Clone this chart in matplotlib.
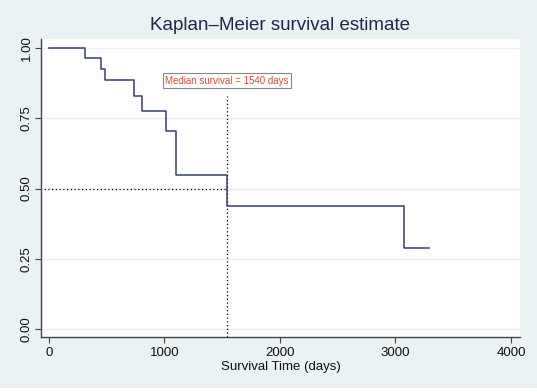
import matplotlib
matplotlib.use("Agg")
import matplotlib.pyplot as plt
from matplotlib.patches import Rectangle

plt.rcParams['font.family'] = ['Liberation Sans', 'DejaVu Sans']

# Data
times = [0, 309, 450, 482, 733, 802, 1016, 1097, 1540, 3076, 3293]
surv = [1.0, 0.9655, 0.925, 0.885, 0.830, 0.775, 0.705, 0.550, 0.439, 0.289, 0.289]
median_time = 1540
median_label = "Median survival = 1540 days"
xticks = [0, 1000, 2000, 3000, 4000]
yticks = [0.0, 0.25, 0.5, 0.75, 1.0]
title = "Kaplan\u2013Meier survival estimate"
xlabel = "Survival Time (days)"

W, H = 537, 392
fig = plt.figure(figsize=(W / 100, H / 100), dpi=100, facecolor='white')
bg = '#EAF2F4'
fig.patches.append(Rectangle((0, 4 / H), 1, 1 - 4 / H, transform=fig.transFigure,
                             facecolor=bg, edgecolor='none', zorder=-10))

ax = fig.add_axes([41 / W, (H - 337) / H, (520 - 41) / W, (337 - 39) / H])
ax.set_facecolor('white')
ax.set_xlim(-69, 4078)
ax.set_ylim(-0.028, 1.032)

for y in yticks:
    ax.axhline(y, color='#EAF1F4', lw=1.0, zorder=0)

ax.step(times, surv, where='post', color='#34406C', lw=1.1, zorder=3)

ax.plot([-40, median_time], [0.5, 0.5], color='black', lw=0.9, ls=(0, (1, 2)), zorder=2)
ax.plot([median_time, median_time], [-0.028, 0.83], color='black', lw=0.9, ls=(0, (1, 2)), zorder=2)
ax.text(median_time, 0.884, median_label, ha='center', va='center', fontsize=7,
        color='#D4503A',
        bbox=dict(boxstyle='square,pad=0.25', facecolor='white', edgecolor='#888888', lw=0.8),
        zorder=4)

ax.set_xticks(xticks)
ax.set_yticks(yticks)
ax.set_yticklabels([f"{v:.2f}" for v in yticks], rotation=90, va='center')
ax.tick_params(axis='both', direction='out', length=4, width=0.8, color='#444444',
               labelsize=9.5, labelcolor='#111111')
ax.tick_params(axis='y', pad=2)
for s in ['top', 'right']:
    ax.spines[s].set_visible(False)
for s in ['left', 'bottom']:
    ax.spines[s].set_color('#444444')
    ax.spines[s].set_linewidth(1.0)

ax.set_xlabel(xlabel, fontsize=9.5, color='#111111', labelpad=1)
fig.text(280 / W, 1 - 25 / H, title, ha='center', va='center', fontsize=13.5, color='#1E2A48')

fig.savefig('out.png', dpi=100, facecolor=fig.get_facecolor())
